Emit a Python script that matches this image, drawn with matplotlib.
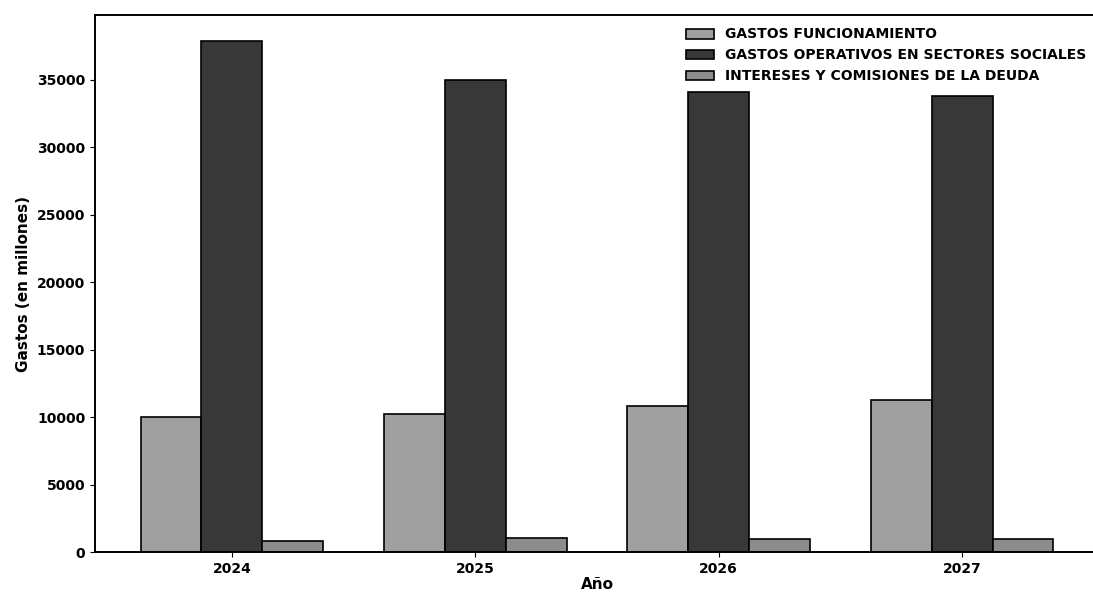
import numpy as np
import matplotlib
matplotlib.use("Agg")
import matplotlib.pyplot as plt

# Gastos proyectados por año (millones)
anios = ["2024", "2025", "2026", "2027"]
gastos_funcionamiento = [10000, 10200, 10800, 11300]
gastos_operativos_sociales = [37900, 35000, 34100, 33800]
intereses_deuda = [800, 1050, 1000, 950]

series = [
    ("GASTOS FUNCIONAMIENTO", gastos_funcionamiento, "#a0a0a0"),
    ("GASTOS OPERATIVOS EN SECTORES SOCIALES", gastos_operativos_sociales, "#383838"),
    ("INTERESES Y COMISIONES DE LA DEUDA", intereses_deuda, "#8c8c8c"),
]

plt.rcParams["font.weight"] = "bold"

fig = plt.figure(figsize=(10.93, 5.92), dpi=100)
ax = fig.add_axes([95 / 1093, 1 - 552 / 592, (1099 - 95) / 1093, (552 - 15) / 592])

x = np.arange(len(anios))
width = 0.25
for i, (nombre, valores, color) in enumerate(series):
    ax.bar(x + (i - 1) * width, valores, width, label=nombre, color=color,
           edgecolor="black", linewidth=1.2)

ax.set_xticks(x)
ax.set_xticklabels(anios, fontsize=10, fontweight="bold")
for lbl in ax.get_yticklabels():
    lbl.set_fontweight("bold")
ax.tick_params(axis="y", labelsize=10)
ax.set_xlabel("Año", fontsize=11, fontweight="bold", labelpad=1)
ax.set_ylabel("Gastos (en millones)", fontsize=11, fontweight="bold")
for s in ax.spines.values():
    s.set_linewidth(1.4)

ax.legend(loc="upper right", fontsize=10, frameon=False,
          prop={"weight": "bold", "size": 10})

fig.savefig("out.png", dpi=100)
